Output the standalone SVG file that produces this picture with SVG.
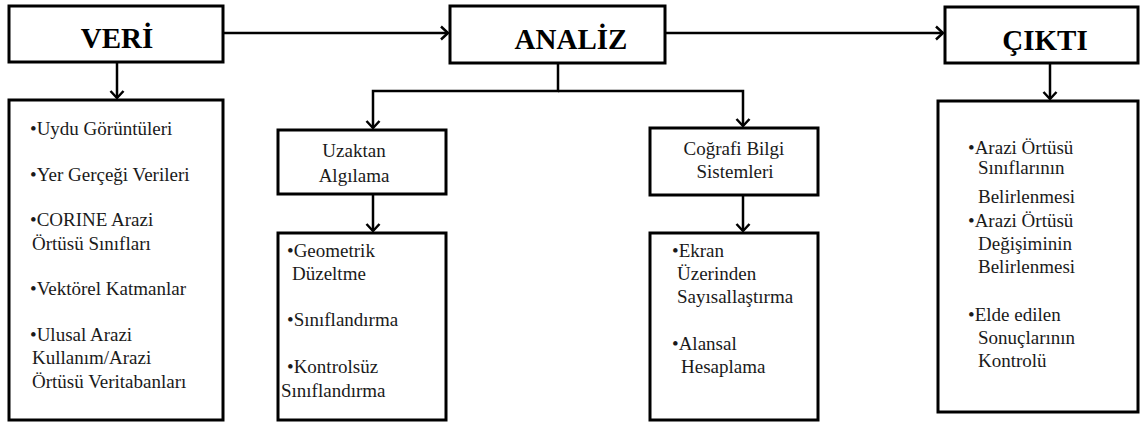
<svg xmlns="http://www.w3.org/2000/svg" width="1141" height="423" viewBox="0 0 1141 423" font-family="Liberation Serif, Times New Roman, Times, serif">
<style>
.box{fill:#fff;stroke:#000;stroke-width:3}
.con{fill:none;stroke:#000;stroke-width:2.5}
.t{font-size:29px;font-weight:bold;fill:#000}
.s{font-size:19px;fill:#1a1a1a}
</style>
<defs>
<marker id="arr" markerUnits="userSpaceOnUse" markerWidth="16" markerHeight="16" viewBox="-10 -8 12 16" refX="0" refY="0" orient="auto">
<path d="M-7,-6.5 L0,0 L-7,6.5" fill="none" stroke="#000" stroke-width="2.5"/>
</marker>
</defs>
<rect width="1141" height="423" fill="#fff"/>
<g id="connectors">
<path class="con" d="M117,62 V98" marker-end="url(#arr)"/>
<path class="con" d="M223,33 H448" marker-end="url(#arr)"/>
<path class="con" d="M665,33 H943" marker-end="url(#arr)"/>
<path class="con" d="M1050,63 V99" marker-end="url(#arr)"/>
<path class="con" d="M558,63 V91 H373 V128" marker-end="url(#arr)"/>
<path class="con" d="M558,91 H743 V126" marker-end="url(#arr)"/>
<path class="con" d="M373,194 V231" marker-end="url(#arr)"/>
<path class="con" d="M743,195 V231" marker-end="url(#arr)"/>
</g>
<g id="veri">
<rect class="box" x="9" y="6" width="214" height="56"/>
<text class="t" x="117" y="48" text-anchor="middle">VERİ</text>
</g>
<g id="analiz">
<rect class="box" x="450" y="6" width="215" height="57"/>
<text class="t" x="571" y="49" text-anchor="middle">ANALİZ</text>
</g>
<g id="cikti">
<rect class="box" x="945" y="7" width="193" height="56"/>
<text class="t" x="1045" y="50" text-anchor="middle">ÇIKTI</text>
</g>
<g id="veri-list">
<rect class="box" x="9" y="100" width="214" height="320"/>
<text class="s" x="30" y="135">•Uydu Görüntüleri</text>
<text class="s" x="30" y="181">•Yer Gerçeği Verileri</text>
<text class="s" x="30" y="226">•CORINE Arazi</text>
<text class="s" x="32" y="250">Örtüsü Sınıfları</text>
<text class="s" x="30" y="295">•Vektörel Katmanlar</text>
<text class="s" x="30" y="341">•Ulusal Arazi</text>
<text class="s" x="32" y="364">Kullanım/Arazi</text>
<text class="s" x="32" y="388">Örtüsü Veritabanları</text>
</g>
<g id="uzaktan">
<rect class="box" x="278" y="130" width="168" height="64"/>
<text class="s" x="354" y="157" text-anchor="middle">Uzaktan</text>
<text class="s" x="354" y="182" text-anchor="middle">Algılama</text>
</g>
<g id="uzaktan-list">
<rect class="box" x="278" y="233" width="168" height="187"/>
<text class="s" x="287" y="257">•Geometrik</text>
<text class="s" x="292" y="280">Düzeltme</text>
<text class="s" x="287" y="326">•Sınıflandırma</text>
<text class="s" x="287" y="373">•Kontrolsüz</text>
<text class="s" x="281" y="397">Sınıflandırma</text>
</g>
<g id="cbs">
<rect class="box" x="650" y="128" width="168" height="67"/>
<text class="s" x="734" y="155" text-anchor="middle">Coğrafi Bilgi</text>
<text class="s" x="735" y="178" text-anchor="middle">Sistemleri</text>
</g>
<g id="cbs-list">
<rect class="box" x="650" y="233" width="168" height="187"/>
<text class="s" x="672" y="257">•Ekran</text>
<text class="s" x="677" y="280">Üzerinden</text>
<text class="s" x="677" y="303">Sayısallaştırma</text>
<text class="s" x="672" y="350">•Alansal</text>
<text class="s" x="681" y="373">Hesaplama</text>
</g>
<g id="cikti-list">
<rect class="box" x="938" y="101" width="200" height="311"/>
<text class="s" x="968" y="154">•Arazi Örtüsü</text>
<text class="s" x="978" y="174">Sınıflarının</text>
<text class="s" x="978" y="203">Belirlenmesi</text>
<text class="s" x="968" y="227">•Arazi Örtüsü</text>
<text class="s" x="978" y="250">Değişiminin</text>
<text class="s" x="978" y="273">Belirlenmesi</text>
<text class="s" x="968" y="321">•Elde edilen</text>
<text class="s" x="978" y="344">Sonuçlarının</text>
<text class="s" x="978" y="367">Kontrolü</text>
</g>
</svg>
